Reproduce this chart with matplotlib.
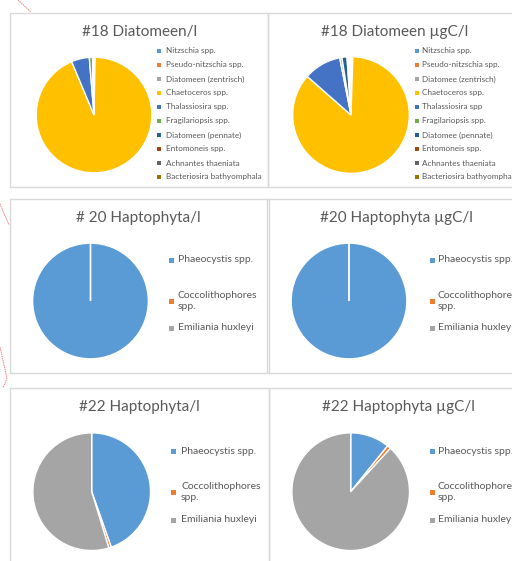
import matplotlib.pyplot as plt
from matplotlib.patches import Rectangle
from matplotlib.lines import Line2D

plt.rcParams['font.family'] = ['Lato', 'DejaVu Sans']

W, H = 512, 561

# Diatom counts and carbon (percent share per taxon)
diatom_labels_l = ["Nitzschia spp.", "Pseudo-nitzschia spp.", "Diatomeen (zentrisch)",
                   "Chaetoceros spp.", "Thalassiosira spp.", "Fragilariopsis spp.",
                   "Diatomeen (pennate)", "Entomoneis spp.", "Achnantes thaeniata",
                   "Bacteriosira bathyomphala"]
diatom_labels_c = ["Nitzschia spp.", "Pseudo-nitzschia spp.", "Diatomee (zentrisch)",
                   "Chaetoceros spp.", "Thalassiosira spp", "Fragilariopsis spp.",
                   "Diatomee (pennate)", "Entomoneis spp.", "Achnantes thaeniata",
                   "Bacteriosira bathyomphala"]
diatom18_cells = [0.2, 0.0, 0.1, 93.4, 5.0, 0.9, 0.2, 0.0, 0.1, 0.1]
diatom18_carbon = [0.3, 0.0, 0.2, 86.0, 10.4, 0.6, 1.4, 0.3, 0.4, 0.4]
diatom_colors = ["#5B9BD5", "#ED7D31", "#A5A5A5", "#FFC000", "#4472C4",
                 "#70AD47", "#255E91", "#9E480E", "#636363", "#997300"]

# Haptophyte counts and carbon
hapto_labels = ["Phaeocystis spp.", "Coccolithophores\nspp.", "Emiliania huxleyi"]
hapto20_cells = [100.0, 0.0, 0.0]
hapto20_carbon = [100.0, 0.0, 0.0]
hapto22_cells = [44.6, 0.7, 54.7]
hapto22_carbon = [10.8, 1.0, 88.2]
hapto_colors = ["#5B9BD5", "#ED7D31", "#A5A5A5"]

TXT = "#595959"
BORDER = "#D9D9D9"


def fx(x):
    return x / W


def fy(y):
    return 1 - y / H


fig = plt.figure(figsize=(W / 100, H / 100), dpi=100)
fig.patch.set_facecolor("white")


def panel(x0, y0, x1, y1):
    fig.add_artist(Rectangle((fx(x0), fy(y1)), fx(x1) - fx(x0), fy(y0) - fy(y1),
                             transform=fig.transFigure, fill=False,
                             edgecolor=BORDER, linewidth=1.0))


def pie(cx, cy, r, values, colors):
    ax = fig.add_axes([fx(cx - r), fy(cy + r), 2 * r / W, 2 * r / H])
    vals = [v if v > 0 else 1e-9 for v in values]
    ax.pie(vals, colors=colors, startangle=90, counterclock=False, radius=1,
           wedgeprops=dict(edgecolor="white", linewidth=1.0))
    ax.set_xlim(-1.02, 1.02)
    ax.set_ylim(-1.02, 1.02)
    ax.axis("off")


def legend(x_sq, x_txt, ys, labels, colors, size, sq):
    for y, lab, col in zip(ys, labels, colors):
        fig.add_artist(Rectangle((fx(x_sq - sq / 2), fy(y + sq / 2)), sq / W, sq / H,
                                 transform=fig.transFigure, facecolor=col,
                                 edgecolor="none"))
        fig.text(fx(x_txt), fy(y), lab, fontsize=size, color=TXT,
                 ha="left", va="center", linespacing=1.3)


# Row 1: diatoms at station 18
panel(9.5, 12.5, 268, 186.5)
panel(268, 12.5, 530, 186.5)
fig.text(fx(140), fy(32), "#18 Diatomeen/l", fontsize=11, color=TXT,
         ha="center", va="center")
fig.text(fx(395), fy(32), "#18 Diatomeen µgC/l", fontsize=11, color=TXT,
         ha="center", va="center")
pie(94, 115, 59, diatom18_cells, diatom_colors)
pie(351, 115, 59.5, diatom18_carbon, diatom_colors)
rows = [51 + 14 * i for i in range(10)]
legend(159, 166, rows, diatom_labels_l, diatom_colors, 5.9, 4)
legend(417, 422, rows, diatom_labels_c, diatom_colors, 5.9, 4)

# Row 2: haptophytes at station 20
panel(9.5, 199, 269, 373)
panel(267, 199, 530, 373)
fig.text(fx(138), fy(218), "# 20 Haptophyta/l", fontsize=11, color=TXT,
         ha="center", va="center")
fig.text(fx(396), fy(218), "#20 Haptophyta µgC/l", fontsize=11, color=TXT,
         ha="center", va="center")
pie(90.5, 301, 59, hapto20_cells, hapto_colors)
pie(349, 301, 59, hapto20_carbon, hapto_colors)
legend(171, 178, [260, 301, 328], hapto_labels, hapto_colors, 7.5, 5)
legend(432, 438, [260, 301, 328], hapto_labels, hapto_colors, 7.5, 5)

# Row 3: haptophytes at station 22
panel(9.5, 388, 269, 580)
panel(269, 388, 530, 580)
fig.text(fx(139.5), fy(407), "#22 Haptophyta/l", fontsize=11, color=TXT,
         ha="center", va="center")
fig.text(fx(398), fy(407), "#22 Haptophyta µgC/l", fontsize=11, color=TXT,
         ha="center", va="center")
pie(91.7, 491.7, 60, hapto22_cells, hapto_colors)
pie(350.7, 491.7, 60, hapto22_carbon, hapto_colors)
legend(173, 181, [451, 492, 520], hapto_labels, hapto_colors, 7.5, 5)
legend(432, 438, [451, 492, 520], hapto_labels, hapto_colors, 7.5, 5)

# Red annotation strokes along the left margin
red = "#F08080"
for xs, ys in [([18, 31], [0, 12]), ([0, 9], [204, 225]),
               ([0, 7, 3], [347, 378, 388])]:
    fig.add_artist(Line2D([fx(x) for x in xs], [fy(y) for y in ys],
                          transform=fig.transFigure, color=red, linewidth=0.7,
                          linestyle=(0, (1.5, 0.8))))

fig.savefig("out.png", dpi=100, facecolor="white")
